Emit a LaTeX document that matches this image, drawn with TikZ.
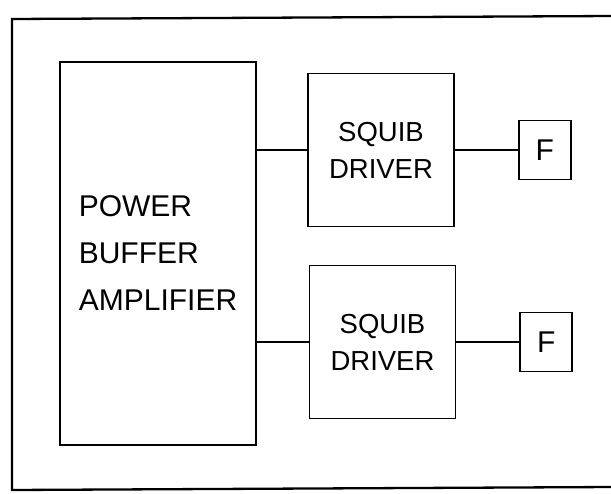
\documentclass[tikz,border=0pt]{standalone}
\usepackage{fontspec}
\setmainfont{Liberation Sans}
\usetikzlibrary{positioning}
\tikzset{
  blk/.style={draw, line width=1.7pt, align=center, inner sep=0pt, font=\fontsize{27.5}{37}\selectfont},
  ampbox/.style={blk, align=left, minimum width=196pt, minimum height=383pt, font=\fontsize{30}{47}\selectfont},
  drvbox/.style={blk, minimum width=146pt, minimum height=153pt},
  fusebox/.style={blk, minimum width=52pt, minimum height=59pt, font=\fontsize{30}{36}\selectfont},
  wire/.style={line width=1.7pt}
}

\begin{document}
\begin{tikzpicture}[x=1pt, y=-1pt]
        \useasboundingbox (0,0) rectangle (611,494);
        % outer frame, right side runs off the sheet
        \draw[line width=2.3pt] (614,16) -- (12,19) -- (12,490) -- (614,487);
        \node[ampbox] (amp) at (158,253.5) {POWER\\BUFFER\\AMPLIFIER};
        \node[drvbox] (drvA) at (381,150) {SQUIB\\DRIVER};
        \node[drvbox] (drvB) at (382.5,342) {SQUIB\\DRIVER};
        \node[fusebox, right=63pt of drvA] (fA) {F};
        \node[fusebox, right=63pt of drvB] (fB) {F};
        \draw[wire] (drvA.west) -- (drvA.west -| amp.east);
        \draw[wire] (drvB.west) -- (drvB.west -| amp.east);
        \draw[wire] (drvA) -- (fA);
        \draw[wire] (drvB) -- (fB);
      \end{tikzpicture}
\end{document}
